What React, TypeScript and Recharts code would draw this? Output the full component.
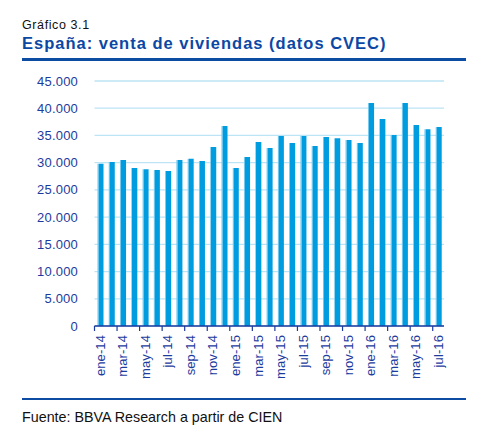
import React from "react";
import { BarChart, Bar, XAxis, YAxis, CartesianGrid } from "recharts";

const months = [
  "ene-14", "feb-14", "mar-14", "abr-14", "may-14", "jun-14", "jul-14", "ago-14", "sep-14", "oct-14", "nov-14", "dic-14",
  "ene-15", "feb-15", "mar-15", "abr-15", "may-15", "jun-15", "jul-15", "ago-15", "sep-15", "oct-15", "nov-15", "dic-15",
  "ene-16", "feb-16", "mar-16", "abr-16", "may-16", "jun-16", "jul-16",
];

const ventas = [
  29800, 30100, 30500, 29000, 28800, 28650, 28450, 30500, 30700, 30300, 32900, 36750,
  29000, 31050, 33800, 32700, 34900, 33600, 34900, 33050, 34700, 34500, 34150, 33600,
  40950, 38000, 35100, 40950, 36900, 36150, 36550,
];

const yTicks = [0, 5000, 10000, 15000, 20000, 25000, 30000, 35000, 40000, 45000];

const data = months.map((m, i) => ({ mes: m, ventas: ventas[i] }));

const CHART_W = 480;
const CHART_H = 390;
const MARGIN = { top: 81, right: 36, bottom: 0, left: 0 };
const Y_W = 94.5;
const X_H = 64;
const PLOT_W = CHART_W - MARGIN.right - Y_W;
const BAND = PLOT_W / months.length;
const AXIS_COLOR = "#1B3A9C";
const LABEL_COLOR = "#1C3B9E";
const FONT = "'Liberation Sans', Arial, sans-serif";

const fmt = (v: number) => v.toLocaleString("de-DE");

const YTick = (props: any) => {
  const { y, payload } = props;
  return (
    <text x={78} y={y} dy="0.35em" textAnchor="end" fill={LABEL_COLOR} fontSize={13} fontFamily={FONT} letterSpacing={0.2}>
      {fmt(payload.value)}
    </text>
  );
};

const XTick = (props: any) => {
  const { x, y, payload } = props;
  const axisY = y - 8;
  const tx = x;
  const ty = axisY + 9;
  return (
    <g>
      <line x1={x - BAND / 2} x2={x - BAND / 2} y1={axisY} y2={axisY + 5} stroke={AXIS_COLOR} strokeWidth={1.2} />
      <text
        x={tx}
        y={ty}
        dy="0.35em"
        textAnchor="end"
        transform={`rotate(-90, ${tx}, ${ty})`}
        fill={LABEL_COLOR}
        fontSize={13}
        fontFamily={FONT}
        letterSpacing={0.1}
      >
        {payload.value}
      </text>
    </g>
  );
};

export default function App() {
  return (
    <div style={{ position: "absolute", left: 0, top: 0, width: 480, height: 430, background: "#fff", fontFamily: FONT }}>
      <div style={{ position: "absolute", left: 22, top: 18.6, fontSize: 12.5, lineHeight: "12.5px", letterSpacing: 0.6, color: "#111", whiteSpace: "nowrap" }}>
        Gráfico 3.1
      </div>
      <div style={{ position: "absolute", left: 22, top: 35.3, fontSize: 16.5, lineHeight: "16.5px", fontWeight: "bold", letterSpacing: 1, color: "#0B48A4", whiteSpace: "nowrap" }}>
        España: venta de viviendas (datos CVEC)
      </div>
      <div style={{ position: "absolute", left: 22, top: 58, width: 444, height: 2.6, background: "#0D4CA3" }} />
      <div style={{ position: "absolute", left: 0, top: 0 }}>
        <BarChart width={CHART_W} height={CHART_H} data={data} margin={MARGIN} barCategoryGap={0}>
          <defs>
            <linearGradient id="barFill" x1="0" y1="0" x2="1" y2="0">
              <stop offset="0%" stopColor="#6CC6EE" />
              <stop offset="18%" stopColor="#6CC6EE" />
              <stop offset="19%" stopColor="#009CE0" />
              <stop offset="100%" stopColor="#009CE0" />
            </linearGradient>
          </defs>
          <CartesianGrid vertical={false} stroke="#BDE4F5" strokeWidth={1.3} />
          <XAxis
            dataKey="mes"
            interval={1}
            height={X_H}
            tickLine={false}
            tickSize={8}
            tickMargin={0}
            axisLine={{ stroke: AXIS_COLOR, strokeWidth: 1.5 }}
            tick={<XTick />}
          />
          <YAxis
            width={Y_W}
            domain={[0, 45000]}
            ticks={yTicks}
            interval={0}
            tickLine={false}
            axisLine={false}
            tick={<YTick />}
          />
          <Bar dataKey="ventas" fill="url(#barFill)" barSize={6} isAnimationActive={false} />
        </BarChart>
      </div>
      <div style={{ position: "absolute", left: 22, top: 397.5, width: 444, height: 2.6, background: "#0D4CA3" }} />
      <div style={{ position: "absolute", left: 22, top: 409.6, fontSize: 14.3, lineHeight: "14.3px", color: "#111", whiteSpace: "nowrap" }}>
        Fuente: BBVA Research a partir de CIEN
      </div>
    </div>
  );
}
